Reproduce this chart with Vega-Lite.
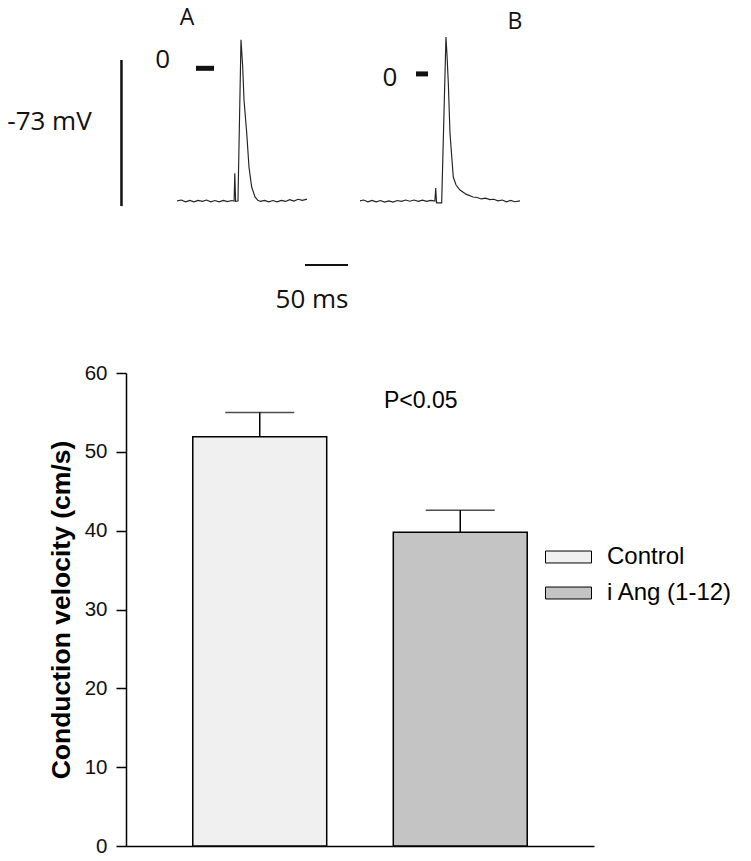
{
  "$schema": "https://vega.github.io/schema/vega-lite/v6.json",
  "width": 468,
  "height": 473,
  "autosize": "none",
  "padding": {"left": 126, "top": 373, "right": 157, "bottom": 15},
  "background": "white",
  "config": {"view": {"stroke": null}},
  "datasets": {
    "bars": [
      {"group": "Control", "value": 51.9, "upper": 55.0},
      {"group": "i Ang (1-12)", "value": 39.8, "upper": 42.6}
    ],
    "traces": [
      {"trace": "A", "t": -1, "mv": -73.5}, {"trace": "A", "t": 4, "mv": -73}, {"trace": "A", "t": 9, "mv": -74}, {"trace": "A", "t": 14, "mv": -73.2}, {"trace": "A", "t": 19, "mv": -74}, {"trace": "A", "t": 24, "mv": -73.2}, {"trace": "A", "t": 29, "mv": -73.8}, {"trace": "A", "t": 34, "mv": -73}, {"trace": "A", "t": 39, "mv": -74}, {"trace": "A", "t": 44, "mv": -73.3}, {"trace": "A", "t": 49, "mv": -74}, {"trace": "A", "t": 54, "mv": -73.2}, {"trace": "A", "t": 59, "mv": -73.9}, {"trace": "A", "t": 64, "mv": -73.3}, {"trace": "A", "t": 66.8, "mv": -73.6}, {"trace": "A", "t": 67.6, "mv": -58}, {"trace": "A", "t": 68.6, "mv": -73.8}, {"trace": "A", "t": 71.4, "mv": -73.6}, {"trace": "A", "t": 75, "mv": 17}, {"trace": "A", "t": 77, "mv": 2}, {"trace": "A", "t": 78.6, "mv": -17}, {"trace": "A", "t": 81.8, "mv": -35.4}, {"trace": "A", "t": 84.5, "mv": -54.5}, {"trace": "A", "t": 87.7, "mv": -65.7}, {"trace": "A", "t": 91.7, "mv": -71.3}, {"trace": "A", "t": 95, "mv": -73.2}, {"trace": "A", "t": 98, "mv": -73.8}, {"trace": "A", "t": 103, "mv": -73.2}, {"trace": "A", "t": 108, "mv": -74}, {"trace": "A", "t": 113, "mv": -73.3}, {"trace": "A", "t": 118, "mv": -74}, {"trace": "A", "t": 123, "mv": -73.2}, {"trace": "A", "t": 128, "mv": -73.8}, {"trace": "A", "t": 133, "mv": -72.8}, {"trace": "A", "t": 138, "mv": -73.6}, {"trace": "A", "t": 143, "mv": -72.6}, {"trace": "A", "t": 148, "mv": -73.2}, {"trace": "A", "t": 153.6, "mv": -72.5},
      {"trace": "B", "t": 216.7, "mv": -73.5}, {"trace": "B", "t": 221, "mv": -73}, {"trace": "B", "t": 226, "mv": -74}, {"trace": "B", "t": 231, "mv": -73.2}, {"trace": "B", "t": 236, "mv": -74}, {"trace": "B", "t": 241, "mv": -73.3}, {"trace": "B", "t": 246, "mv": -74.2}, {"trace": "B", "t": 251, "mv": -73.5}, {"trace": "B", "t": 256, "mv": -74.2}, {"trace": "B", "t": 261, "mv": -73.3}, {"trace": "B", "t": 266, "mv": -73.8}, {"trace": "B", "t": 271, "mv": -73}, {"trace": "B", "t": 276, "mv": -73.7}, {"trace": "B", "t": 281, "mv": -73}, {"trace": "B", "t": 286, "mv": -73.8}, {"trace": "B", "t": 291, "mv": -73.1}, {"trace": "B", "t": 296, "mv": -73.8}, {"trace": "B", "t": 301, "mv": -73.2}, {"trace": "B", "t": 305.8, "mv": -73.6}, {"trace": "B", "t": 306.8, "mv": -66.3}, {"trace": "B", "t": 307.8, "mv": -74.6}, {"trace": "B", "t": 313.9, "mv": -74.6}, {"trace": "B", "t": 319, "mv": 18.5}, {"trace": "B", "t": 320.3, "mv": 8}, {"trace": "B", "t": 321.8, "mv": -7.3}, {"trace": "B", "t": 323.8, "mv": -35.4}, {"trace": "B", "t": 327.7, "mv": -60.1}, {"trace": "B", "t": 331, "mv": -64.6}, {"trace": "B", "t": 335.7, "mv": -67.4}, {"trace": "B", "t": 342.9, "mv": -69.7}, {"trace": "B", "t": 351.2, "mv": -71.3}, {"trace": "B", "t": 356, "mv": -71.6}, {"trace": "B", "t": 361, "mv": -72.4}, {"trace": "B", "t": 366, "mv": -72}, {"trace": "B", "t": 371.4, "mv": -72.8}, {"trace": "B", "t": 376, "mv": -72.6}, {"trace": "B", "t": 381, "mv": -73.5}, {"trace": "B", "t": 386, "mv": -73}, {"trace": "B", "t": 391, "mv": -74}, {"trace": "B", "t": 396, "mv": -73.2}, {"trace": "B", "t": 401, "mv": -74}, {"trace": "B", "t": 407.1, "mv": -73.5}
    ],
    "zeroMarks": [
      {"trace": "A", "t": 21.4, "t2": 42.9, "mv": 0.95},
      {"trace": "B", "t": 283.3, "t2": 297.6, "mv": -2.2}
    ],
    "timeScale": [
      {"t": 151.2, "t2": 202.4, "mv": -109.5}
    ],
    "voltScale": [
      {"t": -67.3, "mv": 5.6, "mv2": -76.4}
    ],
    "panelLabels": [
      {"label": "A", "t": 10.7, "mv": 29.2},
      {"label": "B", "t": 401.2, "mv": 27.1}
    ],
    "traceLabels": [
      {"label": "0", "t": -18.2, "mv": 5.6},
      {"label": "0", "t": 252.4, "mv": -4.5},
      {"label": "-73 mV", "t": -153, "mv": -29.2},
      {"label": "50 ms", "t": 159.5, "mv": -129.2}
    ],
    "note": [
      {"group": "i Ang (1-12)", "y": 55.6, "text": "P<0.05"}
    ]
  },
  "layer": [
    {
      "layer": [
        {
          "data": {"name": "bars"},
          "mark": {"type": "bar", "stroke": "black", "strokeWidth": 1.5},
          "encoding": {
            "x": {
              "field": "group", "type": "nominal", "sort": ["Control", "i Ang (1-12)"],
              "scale": {"domain": ["Control", "i Ang (1-12)"], "paddingInner": 0.332, "paddingOuter": 0.333},
              "axis": {"title": null, "labels": false, "ticks": false, "domainColor": "black", "domainWidth": 1.5}
            },
            "y": {
              "field": "value", "type": "quantitative",
              "scale": {"domain": [0, 60], "nice": false},
              "axis": {
                "title": "Conduction velocity (cm/s)", "values": [0, 10, 20, 30, 40, 50, 60], "grid": false,
                "labelFont": "Liberation Sans", "labelFontSize": 20.5, "labelColor": "#111",
                "tickSize": 10, "tickWidth": 1.5, "tickColor": "black", "labelPadding": 9,
                "domainColor": "black", "domainWidth": 1.5,
                "titleFont": "Liberation Sans", "titleFontSize": 26.5, "titleFontWeight": "bold", "titleColor": "black", "titlePadding": 9
              }
            },
            "fill": {
              "field": "group", "type": "nominal",
              "scale": {"domain": ["Control", "i Ang (1-12)"], "range": ["#f0f0f0", "#c4c4c4"]},
              "legend": {
                "title": null, "orient": "none", "legendX": 419, "legendY": 160.5, "padding": 0,
                "symbolType": "M-1,-0.26L1,-0.26L1,0.26L-1,0.26Z", "symbolSize": 2116,
                "symbolStrokeColor": "black", "symbolStrokeWidth": 1, "symbolOpacity": 1,
                "labelFont": "Liberation Sans", "labelFontSize": 24, "labelColor": "black",
                "labelOffset": 15, "rowPadding": -11, "labelLimit": 300
              }
            }
          }
        },
        {
          "data": {"name": "bars"},
          "mark": {"type": "rule", "color": "black", "strokeWidth": 1.5},
          "encoding": {
            "x": {"field": "group", "type": "nominal"},
            "y": {"field": "value", "type": "quantitative"},
            "y2": {"field": "upper"}
          }
        },
        {
          "data": {"name": "bars"},
          "mark": {"type": "tick", "color": "black", "size": 69, "thickness": 1.5, "orient": "horizontal"},
          "encoding": {
            "x": {"field": "group", "type": "nominal"},
            "y": {"field": "upper", "type": "quantitative"}
          }
        },
        {
          "data": {"name": "note"},
          "mark": {"type": "text", "font": "Liberation Sans", "fontSize": 23, "color": "black", "align": "center", "baseline": "alphabetic", "dx": -39.5},
          "encoding": {
            "x": {"field": "group", "type": "nominal"},
            "y": {"field": "y", "type": "quantitative"},
            "text": {"field": "text"}
          }
        }
      ]
    },
    {
      "layer": [
        {
          "data": {"name": "traces"},
          "mark": {"type": "line", "color": "#222222", "strokeWidth": 1.15},
          "encoding": {
            "x": {"field": "t", "type": "quantitative", "scale": {"domain": [-61.905, 495.238], "nice": false, "zero": false}, "axis": null},
            "y": {"field": "mv", "type": "quantitative", "scale": {"domain": [-435.76, -170.15], "nice": false, "zero": false}, "axis": null},
            "detail": {"field": "trace"}
          }
        },
        {
          "data": {"name": "zeroMarks"},
          "mark": {"type": "rule", "color": "#111", "strokeWidth": 5},
          "encoding": {
            "x": {"field": "t", "type": "quantitative", "axis": null},
            "x2": {"field": "t2"},
            "y": {"field": "mv", "type": "quantitative", "axis": null}
          }
        },
        {
          "data": {"name": "timeScale"},
          "mark": {"type": "rule", "color": "#111", "strokeWidth": 2},
          "encoding": {
            "x": {"field": "t", "type": "quantitative", "axis": null},
            "x2": {"field": "t2"},
            "y": {"field": "mv", "type": "quantitative", "axis": null}
          }
        },
        {
          "data": {"name": "voltScale"},
          "mark": {"type": "rule", "color": "#111", "strokeWidth": 2.5},
          "encoding": {
            "x": {"field": "t", "type": "quantitative", "axis": null},
            "y": {"field": "mv", "type": "quantitative", "axis": null},
            "y2": {"field": "mv2"}
          }
        },
        {
          "data": {"name": "panelLabels"},
          "mark": {"type": "text", "font": "Open Sans", "fontSize": 23, "color": "#111", "align": "center", "baseline": "middle"},
          "encoding": {
            "x": {"field": "t", "type": "quantitative", "axis": null},
            "y": {"field": "mv", "type": "quantitative", "axis": null},
            "text": {"field": "label"}
          }
        },
        {
          "data": {"name": "traceLabels"},
          "mark": {"type": "text", "font": "Open Sans", "fontSize": 26, "color": "#111", "align": "center", "baseline": "middle"},
          "encoding": {
            "x": {"field": "t", "type": "quantitative", "axis": null},
            "y": {"field": "mv", "type": "quantitative", "axis": null},
            "text": {"field": "label"}
          }
        }
      ]
    }
  ],
  "resolve": {"scale": {"x": "independent", "y": "independent"}}
}
